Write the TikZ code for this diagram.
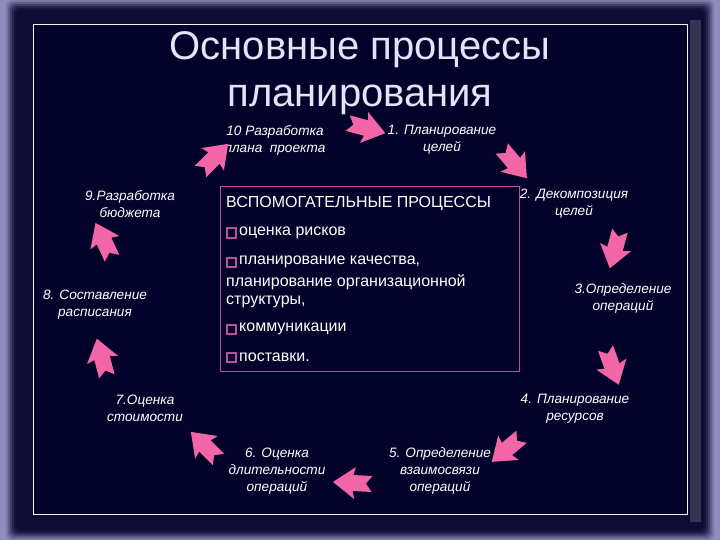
\documentclass[tikz,border=0pt]{standalone}
\usepackage{fontspec}
\setmainfont{Liberation Sans}
\definecolor{lav}{HTML}{8F8DBD}
\definecolor{navy}{HTML}{03022A}
\definecolor{frame}{HTML}{0E0C34}
\definecolor{pinkA}{HTML}{F266A8}
\definecolor{boxline}{HTML}{B8509A}
\definecolor{ttl}{HTML}{E4E4F6}
\tikzset{
  lab/.style={text=white, font=\fontsize{13.6}{17}\selectfont\itshape, align=center, inner sep=0pt},
  boxtxt/.style={text=white, font=\fontsize{16}{20}\selectfont, anchor=west, inner sep=0pt},
  bul/.style={draw=boxline, line width=2pt, fill=navy, minimum size=9pt, inner sep=0pt},
  ttlstyle/.style={text=ttl, font=\fontsize{40}{48}\selectfont, inner sep=0pt, anchor=base},
  barrow/.pic={\fill[pinkA] (-19,-8) -- (-13,0) -- (-19,8) -- (0,8) -- (-2,16) -- (20,0) -- (-2,-16) -- (0,-8) -- cycle;}
}
\begin{document}
\begin{tikzpicture}[x=1pt,y=-1pt]
\useasboundingbox (0,0) rectangle (720,540);
% background
\fill[lav] (0,0) rectangle (720,540);
\foreach \d/\o in {10/0.15,8/0.25,6/0.35,4/0.5,2/0.7,0/1}
  \fill[frame, opacity=\o, rounded corners=6pt] (16-\d,10-\d) rectangle (704+\d,530+\d);
\fill[gray!35!frame] (690,20) rectangle (701,522);
\fill[navy] (33,25) rectangle (687,514);
\draw[white!90!lav, line width=1pt] (33,25) rectangle (687,514);
% title
\node[ttlstyle] (t1) at (360,60) {Основные процессы};
\node[ttlstyle] (t2) at (360,107) {планирования};
% central box
\draw[boxline, line width=0.8pt] (220,186) rectangle (519,371);
\node[boxtxt] (h) at (226,204) {ВСПОМОГАТЕЛЬНЫЕ ПРОЦЕССЫ};
\node[bul] (b1) at (231,233) {};
\node[boxtxt] (i1) at (239,233) {оценка рисков};
\node[bul] (b2) at (231,262) {};
\node[boxtxt] (i2) at (239,262) {планирование качества,};
\node[boxtxt] (i2b) at (226,282) {планирование организационной};
\node[boxtxt] (i2c) at (226,302) {структуры,};
\node[bul] (b3) at (231,329) {};
\node[boxtxt] (i3) at (239,329) {коммуникации};
\node[bul] (b4) at (231,357) {};
\node[boxtxt] (i4) at (239,357) {поставки.};
% labels
\node[lab] (L10) at (275,140) {10 Разработка\\плана\ \ проекта};
\node[lab] (L1) at (442,140) {1. Планирование\\целей};
\node[lab] (L2) at (574,204) {2. Декомпозиция\\целей};
\node[lab] (L3) at (623,298) {3.Определение\\операций};
\node[lab] (L4) at (575,409) {4. Планирование\\ресурсов};
\node[lab] (L5) at (440,471) {5. Определение\\взаимосвязи\\операций};
\node[lab] (L6) at (277,471) {6. Оценка\\длительности\\операций};
\node[lab] (L7) at (145,408) {7.Оценка\\стоимости};
\node[lab] (L8) at (95,305) {8. Составление\\расписания};
\node[lab] (L9) at (130,204) {9.Разработка\\бюджета};
% arrows
\pic[rotate=-15] at (366,128) {barrow};
\pic[rotate=-50] at (514,163) {barrow};
\pic[rotate=-105] at (615,249) {barrow};
\pic[rotate=-70] at (612,366) {barrow};
\pic[rotate=-140] at (507,449) {barrow};
\pic[rotate=177] at (353,483) {barrow};
\pic[rotate=135] at (205,446) {barrow};
\pic[rotate=105] at (102,358) {barrow};
\pic[rotate=115] at (104,241) {barrow};
\pic[rotate=45] at (214,158) {barrow};
\end{tikzpicture}
\end{document}
